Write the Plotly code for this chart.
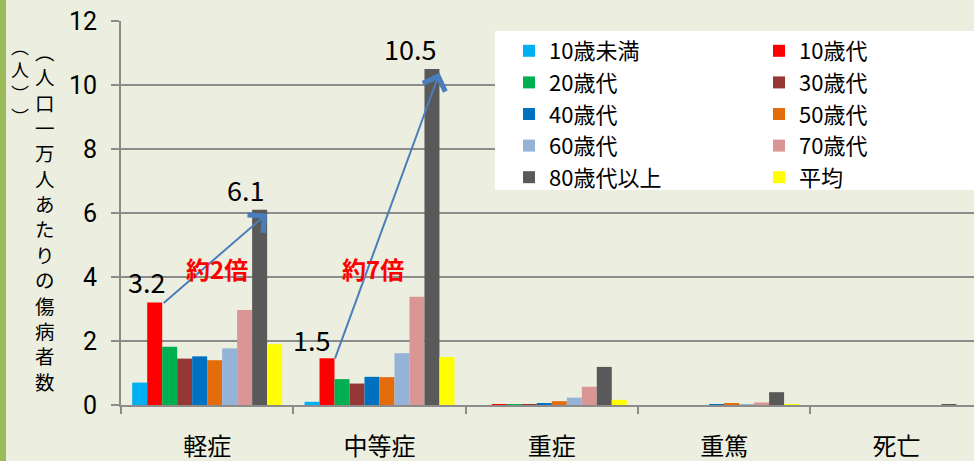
import plotly.graph_objects as go

categories = ['軽症', '中等症', '重症', '重篤', '死亡']
series_names = ['10歳未満', '10歳代', '20歳代', '30歳代', '40歳代',
                '50歳代', '60歳代', '70歳代', '80歳代以上', '平均']
series_colors = ['#00B0F0', '#FF0000', '#00B050', '#953735', '#0070C0',
                 '#E46C0A', '#95B3D7', '#D99694', '#595959', '#FFFF00']

v_under10 = [0.70, 0.10, 0.00, 0.00, 0.00]
v_10s = [3.20, 1.46, 0.01, 0.00, 0.00]
v_20s = [1.82, 0.81, 0.03, 0.00, 0.00]
v_30s = [1.45, 0.67, 0.03, 0.00, 0.00]
v_40s = [1.52, 0.88, 0.05, 0.01, 0.00]
v_50s = [1.40, 0.87, 0.12, 0.06, 0.00]
v_60s = [1.77, 1.62, 0.23, 0.03, 0.00]
v_70s = [2.97, 3.38, 0.57, 0.08, 0.00]
v_80plus = [6.10, 10.50, 1.19, 0.40, 0.02]
v_avg = [1.90, 1.50, 0.16, 0.02, 0.00]

series_values = [v_under10, v_10s, v_20s, v_30s, v_40s,
                 v_50s, v_60s, v_70s, v_80plus, v_avg]

y_title_right = '︵人口一万人あたりの傷病者数'
y_title_left = '︵人︶︶'

BG = '#ECEFDF'
GRID = '#8C8C8C'
JP = 'Noto Sans CJK JP'

fig = go.Figure()
for i, (name, vals, col) in enumerate(zip(series_names, series_values, series_colors)):
    fig.add_trace(go.Bar(
        x=categories, y=vals, name=name,
        marker=dict(color=col, line=dict(width=0)),
        legend='legend' if i % 2 == 0 else 'legend2',
    ))

bargap = 0.13
n = len(series_names)
bw = (1 - bargap) / n


def bar_center(cat_idx, s_idx):
    return cat_idx - (1 - bargap) / 2 + (s_idx + 0.5) * bw


def bar_right(cat_idx, s_idx):
    return cat_idx - (1 - bargap) / 2 + (s_idx + 1) * bw


annotations = []
# value labels on 10歳代 and 80歳代以上 for 軽症 / 中等症
label_shift = {(0, 1): (-8, 21), (0, 8): (-14, 20), (1, 1): (-16, 19), (1, 8): (-22, 21)}
ratio_x = {0: 0.055, 1: 0.965}
for ci in (0, 1):
    for si in (1, 8):
        v = series_values[si][ci]
        xs, ys = label_shift[(ci, si)]
        annotations.append(dict(
            x=bar_center(ci, si), y=v, xref='x', yref='y',
            text=f'{v:.1f}', showarrow=False,
            xshift=xs, yshift=ys,
            font=dict(family=JP, size=27, color='#000000'),
            xanchor='center', yanchor='middle'))
    # arrow from 10歳代 to 80歳代以上
    a0 = series_values[1][ci]
    a1 = series_values[8][ci]
    annotations.append(dict(
        x=bar_right(ci, 8), y=a1 - 0.12, xref='x', yref='y',
        ax=bar_right(ci, 1), ay=a0 - 0.05, axref='x', ayref='y',
        text='', showarrow=True, arrowhead=4, arrowsize=2.3, arrowwidth=2,
        arrowcolor='#4A7EBB', standoff=0, startstandoff=0))
    ratio = round(a1 / a0)
    annotations.append(dict(
        x=ratio_x[ci], y=4.28, xref='x', yref='y',
        text=f'<b>約{ratio}倍</b>', showarrow=False,
        font=dict(family=JP, size=24, color='#FF0000'),
        xanchor='center', yanchor='middle'))

W, H = 974, 461
ML, MR, MT, MB = 121, 0, 21, 56
PW, PH = W - ML - MR, H - MT - MB


def px_x(px):
    return (px - ML) / PW


def px_y(py):
    return (H - MB - py) / PH


# vertical y-axis title (two columns)
annotations.append(dict(
    x=px_x(45), y=px_y(35), xref='paper', yref='paper', text='<br>'.join(y_title_right),
    showarrow=False, font=dict(family=JP, size=19.5, color='#000000'),
    xanchor='center', yanchor='top', align='center'))
annotations.append(dict(
    x=px_x(20), y=px_y(31), xref='paper', yref='paper', text='<br>'.join(y_title_left),
    showarrow=False, font=dict(family=JP, size=18, color='#000000'),
    xanchor='center', yanchor='top', align='center'))

shapes = [
    dict(type='rect', xref='paper', yref='paper',
         x0=px_x(0), x1=px_x(6), y0=px_y(H), y1=px_y(0),
         fillcolor='#9BBB59', line=dict(width=0), layer='above'),
    dict(type='rect', xref='paper', yref='paper',
         x0=px_x(495), x1=px_x(W + 5), y0=px_y(190), y1=px_y(31),
         fillcolor='#FFFFFF', line=dict(width=0), layer='above'),
]

leg_font = dict(family=JP, size=22, color='#000000')
fig.update_layout(
    width=W, height=H,
    margin=dict(l=ML, r=MR, t=MT, b=MB, pad=0, autoexpand=False),
    paper_bgcolor=BG, plot_bgcolor=BG,
    barmode='group', bargap=bargap, bargroupgap=0,
    showlegend=True,
    legend=dict(x=px_x(509), y=px_y(30), xanchor='left', yanchor='top',
                bgcolor='rgba(0,0,0,0)', font=leg_font, tracegroupgap=0,
                itemwidth=30, orientation='v'),
    legend2=dict(x=px_x(759), y=px_y(30), xanchor='left', yanchor='top',
                 bgcolor='rgba(0,0,0,0)', font=leg_font, tracegroupgap=0,
                 itemwidth=30, orientation='v'),
    xaxis=dict(type='category', categoryorder='array', categoryarray=categories,
               range=[-0.5, 4.45], showgrid=False, showline=True, automargin=False,
               linecolor=GRID, linewidth=2, ticks='outside', tickson='boundaries',
               ticklen=7, tickwidth=2, tickcolor=GRID, ticklabelstandoff=19,
               tickfont=dict(family=JP, size=24, color='#000000')),
    yaxis=dict(range=[0, 12], dtick=2, showgrid=True, gridcolor=GRID, gridwidth=2,
               zeroline=False, showline=True, linecolor=GRID, linewidth=2,
               automargin=False,
               ticks='outside', ticklen=8, tickwidth=2, tickcolor=GRID,
               ticklabelstandoff=9,
               tickfont=dict(family='Liberation Sans Narrow, Roboto', size=25,
                             color='#000000')),
    annotations=annotations,
    shapes=shapes,
)

fig.write_html('out.html', config={'displayModeBar': False},
               post_script="document.body.style.margin='0';")
